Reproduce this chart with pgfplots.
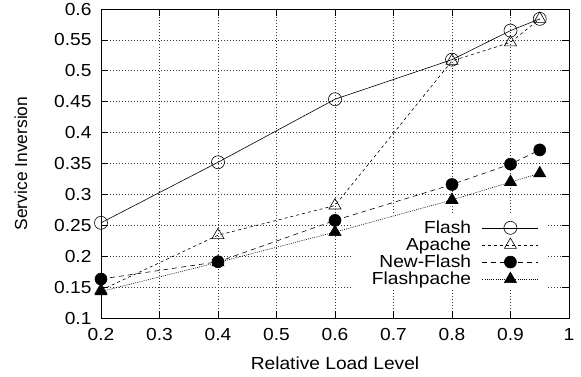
\documentclass[border=0pt]{standalone}
\usepackage{fontspec}
\setmainfont{Liberation Sans}[FakeStretch=1.1]
\newfontfamily\ylabfont{Liberation Sans}
\usepackage{pgfplots}
\pgfplotsset{compat=1.18}
\usetikzlibrary{calc}
\begin{document}
\begin{tikzpicture}
\begin{axis}[
  scale only axis,
  width=468bp, height=309bp,
  xmin=0.2, xmax=1, ymin=0.1, ymax=0.6,
  xtick={0.2,0.3,0.4,0.5,0.6,0.7,0.8,0.9,1},
  ytick={0.1,0.15,0.2,0.25,0.3,0.35,0.4,0.45,0.5,0.55,0.6},
  /pgf/number format/assume math mode=true,
  /pgf/number format/fixed,
  /pgf/number format/precision=2,
  tick label style={font=\fontsize{17.5}{17.5}\selectfont, black},
  xticklabel style={yshift=-7bp},
  yticklabel style={xshift=-6bp},
  xlabel={Relative Load Level},
  ylabel={Service Inversion},
  xlabel style={font=\fontsize{17.5}{17.5}\selectfont, at={(rel axis cs:0.5,-0.146)}, anchor=center},
  ylabel style={font=\ylabfont\fontsize{17.5}{17.5}\selectfont, at={(rel axis cs:-0.171,0.5)}, anchor=center},
  tick align=inside,
  major tick length=7bp,
  tick style={black, line width=0.6bp},
  axis line style={black, line width=0.9bp},
  grid=major,
  major grid style={black!80, line width=0.6bp, dash pattern=on 1bp off 2bp},
  every axis plot/.append style={black, line width=0.6bp},
  legend style={draw=none, fill=none, font=\fontsize{17.5}{17.5}\selectfont,
    at={(rel axis cs:0.94,0.325)}, anchor=north east,
    inner xsep=2bp, inner ysep=1bp, row sep=-1bp, column sep=9bp},
  legend cell align=right,
  legend plot pos=right,
  legend image code/.code={\draw[mark repeat=2,mark phase=2,#1] plot coordinates {(0bp,0bp) (28bp,0bp) (56bp,0bp)};},
]
\fill[white] (axis cs:0.631,0.145) rectangle (axis cs:0.964,0.27);
\addplot[solid, mark=o, mark size=6.5bp, mark options={solid, fill=white}]
  coordinates {(0.2,0.254) (0.4,0.352) (0.6,0.454) (0.8,0.518) (0.9,0.565) (0.95,0.584)};
\addlegendentry{Flash}
\addplot[dash pattern=on 3bp off 3bp, mark=triangle, mark size=7bp, mark options={solid}]
  coordinates {(0.2,0.145) (0.4,0.234) (0.6,0.282) (0.8,0.516) (0.9,0.546) (0.95,0.584)};
\addlegendentry{Apache}
\addplot[dash pattern=on 5bp off 4bp, mark=*, mark size=6bp, mark options={solid}]
  coordinates {(0.2,0.163) (0.4,0.191) (0.6,0.258) (0.8,0.316) (0.9,0.349) (0.95,0.372)};
\addlegendentry{New-Flash}
\addplot[dash pattern=on 1bp off 1.2bp, mark=triangle*, mark size=7bp, mark options={solid}]
  coordinates {(0.2,0.143) (0.4,0.190) (0.6,0.239) (0.8,0.291) (0.9,0.320) (0.95,0.334)};
\addlegendentry{Flashpache}
\coordinate (bl) at (rel axis cs:0,0);
\coordinate (tr) at (rel axis cs:1,1);
\end{axis}
\pgfresetboundingbox
\useasboundingbox ($(bl)+(-101bp,-59bp)$) rectangle ($(tr)+(12bp,9bp)$);
\end{tikzpicture}
\end{document}
